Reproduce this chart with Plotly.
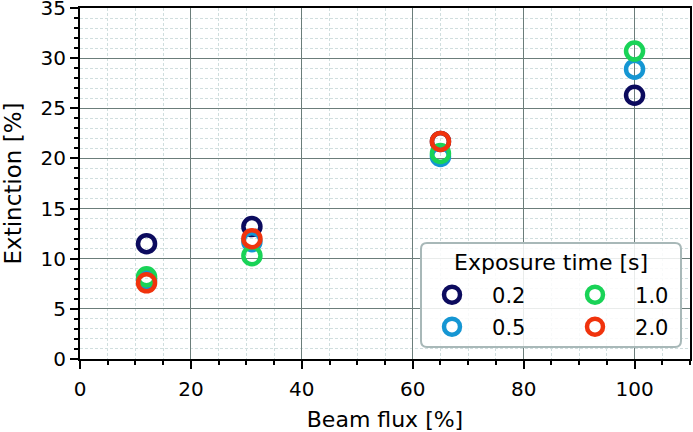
import plotly.graph_objects as go

beam_flux = [12, 31, 65, 100]
exposure_labels = ["0.2", "0.5", "1.0", "2.0"]
ext_02 = [11.5, 13.2, 21.7, 26.3]
ext_05 = [7.9, 11.7, 20.2, 28.9]
ext_10 = [8.2, 10.3, 20.5, 30.7]
ext_20 = [7.6, 12.0, 21.7, None]
colors = ["#0c0b5e", "#1596d3", "#19d357", "#f0330d"]
series = [ext_02, ext_05, ext_10, ext_20]

FONT = "DejaVu Sans"
W, H = 693, 432
ML, MR, MT, MB = 80, 3, 8, 73
PW, PH = W - ML - MR, H - MT - MB


def px_x(p):
    return (p - ML) / PW


def px_y(p):
    return (H - MB - p) / PH


# legend layout (2 columns, column-major like the original)
legend_names = ["legend", "legend3", "legend2", "legend4"]
legend_cells = [(452, 295), (452, 327), (595, 295), (595, 327)]

fig = go.Figure()
for lab, ys, col, lg in zip(exposure_labels, series, colors, legend_names):
    fig.add_trace(go.Scatter(
        x=beam_flux, y=ys, mode="markers", name="\u00a0\u00a0\u00a0" + lab,
        legend=lg, showlegend=True,
        marker=dict(symbol="circle-open", size=17, color=col, line=dict(width=4.5, color=col)),
    ))

axis_common = dict(
    showline=True, linecolor="black", linewidth=2, mirror=True,
    ticks="outside", ticklen=8, tickwidth=1.5, tickcolor="black",
    showgrid=True, gridcolor="#6b7d7a", gridwidth=1,
    zeroline=False, automargin=False, ticklabeloverflow="allow",
    tickfont=dict(family=FONT, size=20, color="black"),
)
minor_common = dict(ticks="outside", ticklen=4, tickcolor="black", showgrid=True,
                    gridcolor="#d0dede", griddash="3px,2px", gridwidth=1)

fig.update_xaxes(
    range=[0, 110], dtick=20, tick0=0, ticklabelstandoff=3,
    title=dict(text="Beam flux [%]", font=dict(family=FONT, size=22, color="black")),
    minor=dict(dtick=5, **minor_common),
    **axis_common,
)
fig.update_yaxes(
    range=[0, 35], dtick=5, tick0=0,
    title=dict(text="Extinction [%]", font=dict(family=FONT, size=23, color="black")),
    minor=dict(dtick=1, **minor_common),
    **axis_common,
)

legend_layouts = {}
for lg, (cx, cy) in zip(legend_names, legend_cells):
    legend_layouts[lg] = dict(
        x=px_x(cx - 20), xanchor="left", y=px_y(cy), yanchor="middle",
        bgcolor="rgba(0,0,0,0)", borderwidth=0,
        font=dict(family=FONT, size=21, color="black"),
    )

# legend frame with rounded corners
bx0, bx1, by0, by1, r = 421, 681, 243, 347, 6
rx, ry = r / PW, r / PH
X0, X1, Y0, Y1 = px_x(bx0), px_x(bx1), px_y(by0), px_y(by1)
frame_path = (
    f"M {X0 + rx} {Y0} L {X1 - rx} {Y0} Q {X1} {Y0} {X1} {Y0 - ry} "
    f"L {X1} {Y1 + ry} Q {X1} {Y1} {X1 - rx} {Y1} "
    f"L {X0 + rx} {Y1} Q {X0} {Y1} {X0} {Y1 + ry} "
    f"L {X0} {Y0 - ry} Q {X0} {Y0} {X0 + rx} {Y0} Z"
)

fig.update_layout(
    width=W, height=H,
    margin=dict(l=ML, r=MR, t=MT, b=MB),
    showlegend=True,
    plot_bgcolor="white", paper_bgcolor="white",
    font=dict(family=FONT, color="black"),
    shapes=[dict(type="path", xref="paper", yref="paper", path=frame_path,
                 fillcolor="rgba(255,255,255,0.85)", line=dict(color="#a8b8b8", width=2),
                 layer="above")],
    annotations=[dict(text="Exposure time [s]", xref="paper", yref="paper",
                      x=px_x((bx0 + bx1) / 2), y=px_y(262), xanchor="center", yanchor="middle",
                      showarrow=False, font=dict(family=FONT, size=22, color="black"))],
    **legend_layouts,
)

fig.write_html(
    "out.html",
    config={"displayModeBar": False},
    post_script="document.body.style.margin='0';document.body.style.overflow='hidden';",
)
